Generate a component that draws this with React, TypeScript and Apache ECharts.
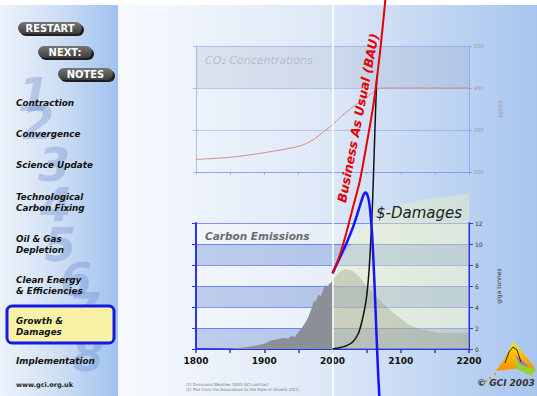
import React, { useEffect, useRef } from "react";
import * as echarts from "echarts";

// ---------- DATA ----------
const co2Years = [1800, 1850, 1900, 1950, 1970, 1990, 2000, 2010, 2020, 2030, 2040, 2050, 2060, 2070, 2200];
const co2Ppm = [280, 285, 296, 311, 325, 350, 362, 378, 392, 405, 417, 428, 440, 450, 450];

const histYears = [1800, 1850, 1870, 1880, 1890, 1900, 1910, 1915, 1920, 1925, 1930, 1935, 1940, 1945, 1950, 1955, 1960, 1965, 1970, 1973, 1975, 1980, 1983, 1985, 1988, 1990, 1993, 1995, 1998, 2000];
const histGtC = [0, 0.05, 0.15, 0.25, 0.35, 0.5, 0.8, 0.85, 0.95, 1.0, 1.05, 1.0, 1.25, 1.15, 1.65, 2.0, 2.5, 3.1, 4.0, 4.6, 4.5, 5.2, 5.0, 5.4, 5.9, 6.1, 5.9, 6.2, 6.3, 6.5];

const contractionYears = [2000, 2010, 2020, 2030, 2040, 2050, 2060, 2070, 2080, 2090, 2100, 2110, 2120, 2135, 2150, 2175, 2200];
const contractionGtC = [6.5, 7.3, 7.6, 7.4, 6.8, 6.0, 5.3, 4.6, 4.0, 3.4, 2.9, 2.4, 2.1, 1.8, 1.6, 1.5, 1.5];

const paleYears = [2000, 2010, 2020, 2030, 2040, 2050, 2060, 2070, 2080, 2100, 2125, 2150, 2175, 2200];
const paleGtC = [7.0, 8.3, 9.3, 10.2, 11.0, 11.7, 12.3, 12.8, 13.2, 13.7, 14.1, 14.4, 14.6, 14.8];

const bauYears = [2000, 2010, 2020, 2030, 2040, 2050, 2060, 2070, 2080];
const bauGtC = [7.2, 8.8, 11.0, 13.5, 16.0, 19.5, 23.3, 28.5, 35];

const blueYears = [2000, 2010, 2020, 2030, 2040, 2045, 2048, 2052, 2055, 2058, 2061, 2063, 2065, 2067, 2070];
const blueGtC = [7.2, 8.6, 10.0, 11.6, 13.6, 14.6, 14.9, 14.5, 13.3, 11.0, 7.0, 3.8, 0.5, -2.5, -6];

const damageYears = [2000, 2010, 2020, 2030, 2038, 2043, 2047, 2050, 2053, 2055, 2057, 2059, 2061, 2063, 2065];
const damageVals = [0, 0.12, 0.3, 0.7, 1.5, 2.6, 3.8, 5.0, 7.0, 9.0, 11.5, 14.5, 18.5, 22.5, 26];

const xTicks = [1800, 1900, 2000, 2100, 2200];
const ppmTicks = [250, 350, 450, 550];
const gtcTicks = [0, 2, 4, 6, 8, 10, 12];

const menuItems = [
  ["Contraction"],
  ["Convergence"],
  ["Science Update"],
  ["Technological", "Carbon Fixing"],
  ["Oil & Gas", "Depletion"],
  ["Clean Energy", "& Efficiencies"],
  ["Growth &", "Damages"],
  ["Implementation"],
];
const menuY = [103, 134, 165, 197, 239, 280, 321, 361];
const digits = ["1", "2", "3", "4", "5", "6", "7", "8"];

const zip = (xs: number[], ys: number[]) => xs.map((x, i) => [x, ys[i]]);

const BLUE = "#2a34f0";
const PALE = "rgba(110,120,235,0.45)";
const F = "'DejaVu Sans', sans-serif";

export default function App() {
  const ref = useRef<HTMLDivElement>(null);
  useEffect(() => {
    const chart = echarts.init(ref.current!, null, { renderer: "svg" });

    const graphic: any[] = [];
    // sidebar big digits (faint watermark)
    const dPos = [[18, 95], [22, 123], [38, 165], [40, 205], [44, 245], [60, 280], [68, 310], [72, 355]];
    digits.forEach((d, i) => {
      graphic.push({
        type: "text", x: dPos[i][0], y: dPos[i][1], z: 1,
        style: { text: d, fill: "rgba(105,135,205,0.34)", fontSize: 46, fontWeight: "bold", fontStyle: "italic", fontFamily: F, verticalAlign: "middle" },
      });
    });
    // highlight box
    graphic.push({
      type: "rect", z: 2, shape: { x: 7, y: 306, width: 107, height: 37, r: 5 },
      style: { fill: "#f8f1a6", stroke: "#1418e8", lineWidth: 3 },
    });
    // menu
    menuItems.forEach((lines, i) => {
      lines.forEach((t, j) => {
        graphic.push({
          type: "text", x: 16, y: menuY[i] + j * 11, z: 3,
          style: { text: t, fill: "#111", fontSize: 8.8, fontWeight: "bold", fontStyle: "italic", fontFamily: F, verticalAlign: "middle" },
        });
      });
    });
    graphic.push({
      type: "text", x: 16, y: 385, z: 3,
      style: { text: "www.gci.org.uk", fill: "#222", fontSize: 6.5, fontWeight: "bold", fontFamily: F, verticalAlign: "middle" },
    });
    // buttons
    const btns = [["RESTART", 18, 22, 64], ["NEXT:", 38, 46, 54], ["NOTES", 58, 68, 55]];
    btns.forEach(([t, x, y, w]: any) => {
      graphic.push({ type: "rect", z: 3, shape: { x: x + 2, y: y + 2, width: w, height: 12, r: 6 }, style: { fill: "#1e1e1e" } });
      graphic.push({
        type: "rect", z: 4, shape: { x, y, width: w, height: 12, r: 6 },
        style: { fill: new echarts.graphic.LinearGradient(0, 0, 0, 1, [{ offset: 0, color: "#777" }, { offset: 1, color: "#3c3c3c" }]) },
      });
      graphic.push({
        type: "text", x: x + w / 2, y: y + 6.5, z: 5,
        style: { text: t, fill: "#fff", fontSize: 11, fontWeight: "bold", fontFamily: "'Liberation Sans Narrow', 'DejaVu Sans Condensed', 'Liberation Sans', sans-serif", align: "center", verticalAlign: "middle" },
      });
    });
    // chart texts
    graphic.push({
      type: "text", x: 205, y: 60, z: 10,
      style: { text: "CO₂ Concentrations", fill: "rgba(150,158,178,0.55)", fontSize: 11, fontStyle: "italic", fontFamily: F, verticalAlign: "middle" },
    });
    graphic.push({
      type: "text", x: 205, y: 236, z: 10,
      style: { text: "Carbon Emissions", fill: "#6c6c6c", fontSize: 10.5, fontWeight: "bold", fontStyle: "italic", fontFamily: F, verticalAlign: "middle", textShadowColor: "rgba(255,255,255,0.6)", textShadowOffsetX: 1, textShadowOffsetY: 1 },
    });
    graphic.push({
      type: "text", x: 376, y: 213, z: 10,
      style: { text: "$-Damages", fill: "#222", fontSize: 15, fontStyle: "italic", fontFamily: F, verticalAlign: "middle" },
    });
    graphic.push({
      type: "text", x: 358, y: 118, z: 10, rotation: (79 * Math.PI) / 180,
      style: { text: "Business As Usual (BAU)", fill: "#e60000", fontSize: 12.5, fontWeight: "bold", fontStyle: "italic", fontFamily: F, align: "center", verticalAlign: "middle" },
    });
    // footnotes
    graphic.push({
      type: "text", x: 186, y: 384, z: 10,
      style: { text: "(1) Emissions Weather 2003 GCI contract", fill: "#777", fontSize: 4, fontFamily: F, verticalAlign: "middle" },
    });
    graphic.push({
      type: "text", x: 186, y: 389, z: 10,
      style: { text: "(2) Plot from the Association to the Rate of Growth (GCI)", fill: "#777", fontSize: 4, fontFamily: F, verticalAlign: "middle" },
    });
    // logo
    graphic.push({
      type: "polygon", z: 10, shape: { points: [[496, 371], [506, 356], [513, 342], [519, 348], [536, 369], [520, 368]] },
      style: { fill: new echarts.graphic.LinearGradient(0, 0, 0, 1, [{ offset: 0, color: "#ffe600" }, { offset: 1, color: "#ff8a00" }]) },
    });
    graphic.push({
      type: "polygon", z: 11, shape: { points: [[513, 360], [524, 364], [536, 370], [531, 376], [517, 369]] },
      style: { fill: "#9ad12a" },
    });
    graphic.push({
      type: "polygon", z: 11, shape: { points: [[515, 355], [524, 362], [530, 368], [520, 364]] },
      style: { fill: "#9a7fb8" },
    });
    graphic.push({
      type: "polyline", z: 12, shape: { points: [[505, 363], [509, 352], [513, 347], [517, 350], [521, 362]] },
      style: { stroke: "#222", lineWidth: 1, fill: null },
    });
    [[495, 374], [490, 378], [486, 381]].forEach(([cx, cy]) => {
      graphic.push({ type: "circle", z: 11, shape: { cx, cy, r: 1 }, style: { fill: "#f08a00" } });
    });
    graphic.push({
      type: "text", x: 477, y: 383, z: 10,
      style: { text: "© GCI 2003", fill: "#333", fontSize: 9, fontWeight: "bold", fontStyle: "italic", fontFamily: F, verticalAlign: "middle" },
    });

    const option: any = {
      animation: false,
      grid: [
        { left: 196, top: 46, width: 273, height: 126 },
        { left: 196, top: 223, width: 273, height: 126 },
        { left: 196, top: 0, width: 273, height: 396 },
      ],
      xAxis: [
        {
          gridIndex: 0, type: "value", min: 1800, max: 2200, interval: 50,
          axisLine: { lineStyle: { color: PALE } }, axisTick: { show: true, length: 3, lineStyle: { color: PALE } },
          axisLabel: { show: false }, splitLine: { show: false },
        },
        {
          gridIndex: 1, type: "value", min: 1800, max: 2200, interval: 50,
          axisLine: { lineStyle: { color: BLUE, width: 2 } }, axisTick: { show: true, length: 4, lineStyle: { color: BLUE, width: 1.5 } },
          axisLabel: {
            formatter: (v: number) => (xTicks.includes(v) ? String(v) : ""),
            fontSize: 9, fontWeight: "bold", color: "#111", margin: 7, fontFamily: F,
          },
          splitLine: { show: false },
        },
        { gridIndex: 2, type: "value", min: 1800, max: 2200, show: false },
      ],
      yAxis: [
        {
          gridIndex: 0, position: "left", min: 250, max: 550, interval: 100,
          axisLine: { show: true, lineStyle: { color: PALE } }, axisTick: { show: true, length: 3, lineStyle: { color: PALE } },
          axisLabel: { show: false },
          splitLine: { lineStyle: { color: "rgba(110,120,235,0.35)" } },
          splitArea: { show: true, areaStyle: { color: ["rgba(0,0,0,0)", "rgba(0,0,0,0)", "rgba(130,140,175,0.16)"] } },
        },
        {
          gridIndex: 0, position: "right", min: 250, max: 550, interval: 100,
          axisLine: { show: true, lineStyle: { color: PALE } }, axisTick: { show: true, length: 3, lineStyle: { color: PALE } },
          axisLabel: { fontSize: 5, color: "#999", margin: 5, fontFamily: F, formatter: (v: number) => (ppmTicks.includes(v) ? String(v) : "") },
          splitLine: { show: false },
          name: "ppmv", nameLocation: "middle", nameRotate: 90, nameGap: 27,
          nameTextStyle: { fontSize: 6, color: "#999", fontFamily: F },
        },
        {
          gridIndex: 1, position: "left", min: 0, max: 12, interval: 2,
          axisLine: { show: true, lineStyle: { color: BLUE, width: 2 } }, axisTick: { show: true, length: 4, lineStyle: { color: BLUE } },
          axisLabel: { show: false },
          splitLine: { lineStyle: { color: "rgba(60,80,240,0.6)" } },
          splitArea: { show: true, areaStyle: { color: ["rgba(100,135,205,0.35)", "rgba(255,255,255,0.3)"] } },
        },
        {
          gridIndex: 1, position: "right", min: 0, max: 12, interval: 2,
          axisLine: { show: true, lineStyle: { color: BLUE, width: 2 } }, axisTick: { show: true, length: 4, lineStyle: { color: BLUE } },
          axisLabel: { fontSize: 6, color: "#333", margin: 6, fontFamily: F, formatter: (v: number) => (gtcTicks.includes(v) ? String(v) : "") },
          splitLine: { show: false },
          name: "giga tonnes", nameLocation: "middle", nameRotate: 90, nameGap: 26,
          nameTextStyle: { fontSize: 6, color: "#333", fontFamily: F },
        },
        { gridIndex: 2, type: "value", min: -47 / 10.5, max: 349 / 10.5, show: false },
      ],
      graphic,
      series: [
        {
          type: "line", xAxisIndex: 0, yAxisIndex: 0, data: zip(co2Years, co2Ppm), showSymbol: false, smooth: 0.3,
          lineStyle: { color: "#d98a8a", width: 1 }, z: 3,
        },
        {
          type: "line", xAxisIndex: 2, yAxisIndex: 4, data: zip(paleYears, paleGtC), showSymbol: false, smooth: 0.3,
          lineStyle: { width: 0 }, areaStyle: { color: "rgba(238,242,190,0.6)" }, z: 3,
          markLine: {
            silent: true, symbol: "none", label: { show: false },
            lineStyle: { color: "rgba(255,255,255,0.75)", width: 2, type: "solid" },
            data: [{ xAxis: 2000 }],
          },
        },
        {
          type: "line", xAxisIndex: 2, yAxisIndex: 4, data: zip(contractionYears, contractionGtC), showSymbol: false, smooth: 0.3,
          lineStyle: { width: 0 }, areaStyle: { color: "rgba(150,152,125,0.5)" }, z: 4,
        },
        {
          type: "line", xAxisIndex: 2, yAxisIndex: 4, data: zip(histYears, histGtC), showSymbol: false,
          lineStyle: { width: 0 }, areaStyle: { color: "#8b9096", opacity: 1 }, z: 4,
        },
        {
          type: "line", xAxisIndex: 2, yAxisIndex: 4, data: zip(damageYears, damageVals), showSymbol: false, smooth: 0.2,
          lineStyle: { color: "#111", width: 1.5 }, z: 6,
        },
        {
          type: "line", xAxisIndex: 2, yAxisIndex: 4, data: zip(blueYears, blueGtC), showSymbol: false, smooth: 0.3,
          lineStyle: { color: "#1414ff", width: 2.5 }, z: 7,
        },
        {
          type: "line", xAxisIndex: 2, yAxisIndex: 4, data: zip(bauYears, bauGtC), showSymbol: false, smooth: 0.3,
          lineStyle: { color: "#e60000", width: 2 }, z: 8,
        },
      ],
    };
    chart.setOption(option);
    return () => chart.dispose();
  }, []);

  return (
    <div
      ref={ref}
      style={{
        position: "absolute", left: 0, top: 0, width: 537, height: 396,
        background:
          "linear-gradient(#ffffff, #ffffff) 0 0 / 100% 5px no-repeat, linear-gradient(to right, #eef3fb 0px, #cddef4 60px, #9fc2ee 118px, #f7f9fe 118px, #dde8f7 330px, #a7c5ee 537px)",
      }}
    />
  );
}
